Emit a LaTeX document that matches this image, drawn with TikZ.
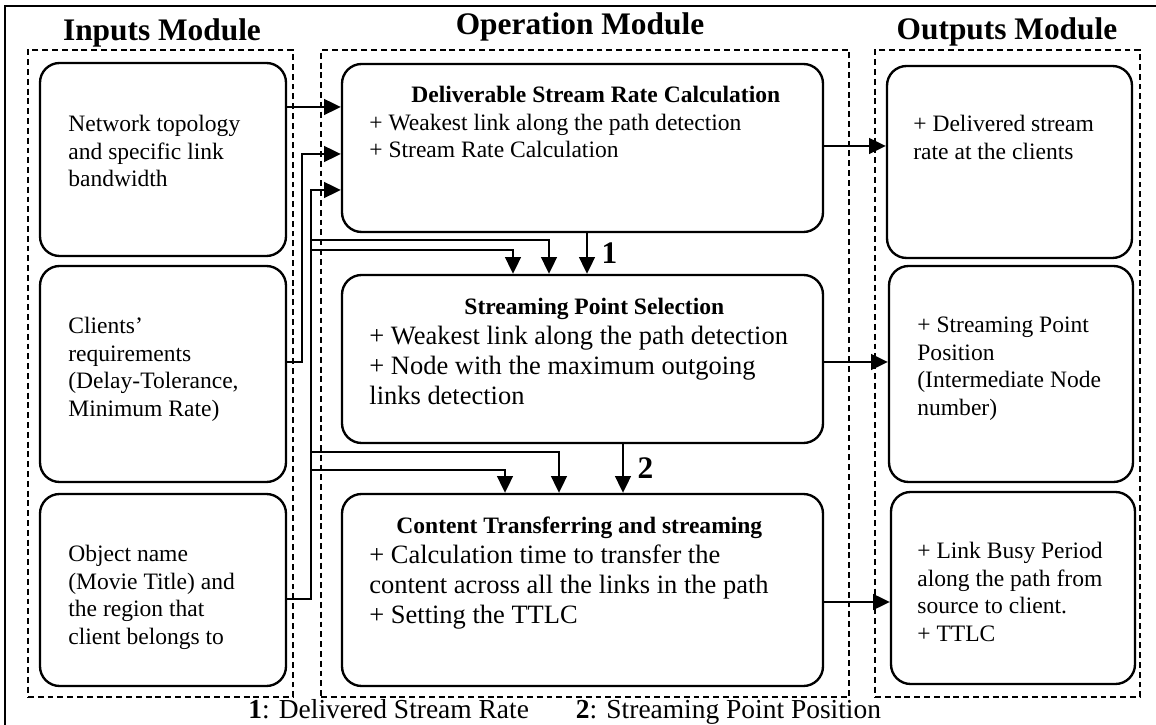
\documentclass[tikz,border=0pt]{standalone}
\usepackage{fontspec}
\setmainfont{Liberation Serif}
\usetikzlibrary{arrows.meta,positioning,fit}
\newcommand{\opttl}[1]{{\fontsize{12}{15.3}\selectfont\bfseries #1}}

\begin{document}
\begin{tikzpicture}[
  x=0.51pt, y=-0.51pt,
  box/.style={draw, line width=1.2pt, rounded corners=10pt, inner sep=0pt},
  mod/.style={draw, line width=0.9pt, dash pattern=on 3pt off 2pt, inner sep=0pt},
  ttl/.style={font=\fontsize{16}{19}\selectfont\bfseries, anchor=base},
  txt/.style={font=\fontsize{12}{14}\selectfont, align=left, inner sep=0pt,
              anchor=north west},
  optxt/.style={txt, font=\fontsize{13.5}{15.3}\selectfont},
  arr/.style={-{Triangle[length=8.5pt, width=8pt]}, line width=1pt},
  num/.style={font=\fontsize{16}{19}\selectfont\bfseries, inner sep=0pt,
              anchor=west, xshift=7pt}
]
\useasboundingbox (0,0) rectangle (1156,725);
\draw[line width=1pt] (5,6) rectangle (1180,760);

% module frames and titles
\node[mod, fit={(28,50) (293,697)}] (inmod) {};
\node[mod, fit={(321,50) (849,697)}] (opmod) {};
\node[mod, fit={(875,50) (1140,697)}] (outmod) {};
\node[ttl] (inttl) at (162,41) {Inputs Module};
\node[ttl] (opttl) at (580,35) {Operation Module};
\node[ttl] (outttl) at (1007,40) {Outputs Module};

% inputs
\node[box, fit={(40,63) (286,256)}] (net) {};
\node[box, fit={(40,266) (286,482)}] (cli) {};
\node[box, fit={(40,494) (286,686)}] (obj) {};
\node[txt] (nettxt) at (68,115) {Network topology\\and specific link\\bandwidth};
\node[txt] (clitxt) at (68,317) {Clients’\\requirements\\(Delay-Tolerance,\\Minimum Rate)};
\node[txt] (objtxt) at (68,545) {Object name\\(Movie Title) and\\the region that\\client belongs to};

% operation
\node[box, fit={(342,64) (823,232)}] (rate) {};
\node[box, fit={(342,275) (823,443)}] (spt) {};
\node[box, fit={(342,494) (823,686)}] (xfer) {};
\node[txt] (ratetxt) at (369,86)
  {\hspace*{21.4pt}\textbf{Deliverable Stream Rate Calculation}\\
   + Weakest link along the path detection\\
   + Stream Rate Calculation};
\node[optxt] (spttxt) at (369,298)
  {\hspace*{48.5pt}\opttl{Streaming Point Selection}\\
   + Weakest link along the path detection\\
   + Node with the maximum outgoing\\
   links detection};
\node[optxt] (xfertxt) at (369,517)
  {\hspace*{13.8pt}\opttl{Content Transferring and streaming}\\
   + Calculation time to transfer the\\
   content across all the links in the path\\
   + Setting the TTLC};

% outputs
\node[box, fit={(887,66) (1132,258)}] (odr) {};
\node[box, fit={(889,266) (1133,482)}] (osp) {};
\node[box, fit={(891,492) (1135,684)}] (obp) {};
\node[txt] (odrtxt) at (913,115) {+ Delivered stream\\rate at the clients};
\node[txt] (osptxt) at (917,317) {+ Streaming Point\\Position\\(Intermediate Node\\number)};
\node[txt] (obptxt) at (917,542) {+ Link Busy Period\\along the path from\\source to client.\\+ TTLC};

% connectors
\coordinate (cj) at (302,154);
\coordinate (oj) at (311,190);
\draw[arr] (net.east |- 0,107) -- (rate.west |- 0,107);
\draw[arr] (cli.east |- 0,362) -| (cj) -- (rate.west |- cj);
\draw[arr] (obj.east |- 0,599) -| (oj) -- (rate.west |- oj);
\draw[arr] (oj |- 0,240) -| (spt.north -| 549,0);
\draw[arr] (oj |- 0,250) -| (spt.north -| 513,0);
\draw[arr] (rate.south -| 587,0) -- (spt.north -| 587,0) node[num, midway] (one) {1};
\draw[arr] (oj |- 0,452) -| (xfer.north -| 559,0);
\draw[arr] (oj |- 0,470) -| (xfer.north -| 505,0);
\draw[arr] (spt.south -| 623,0) -- (xfer.north -| 623,0) node[num, midway] (two) {2};
\draw[arr] (rate.east |- 0,146) -- (odr.west |- 0,146);
\draw[arr] (spt.east |- 0,362) -- (osp.west |- 0,362);
\draw[arr] (xfer.east |- 0,602) -- (obp.west |- 0,602);

\node[font=\fontsize{14}{16}\selectfont, anchor=base west, inner sep=0pt] (key) at (248,718)
  {\textbf{1}: Delivered Stream Rate\hspace*{24pt}\textbf{2}: Streaming Point Position};
\end{tikzpicture}
\end{document}
